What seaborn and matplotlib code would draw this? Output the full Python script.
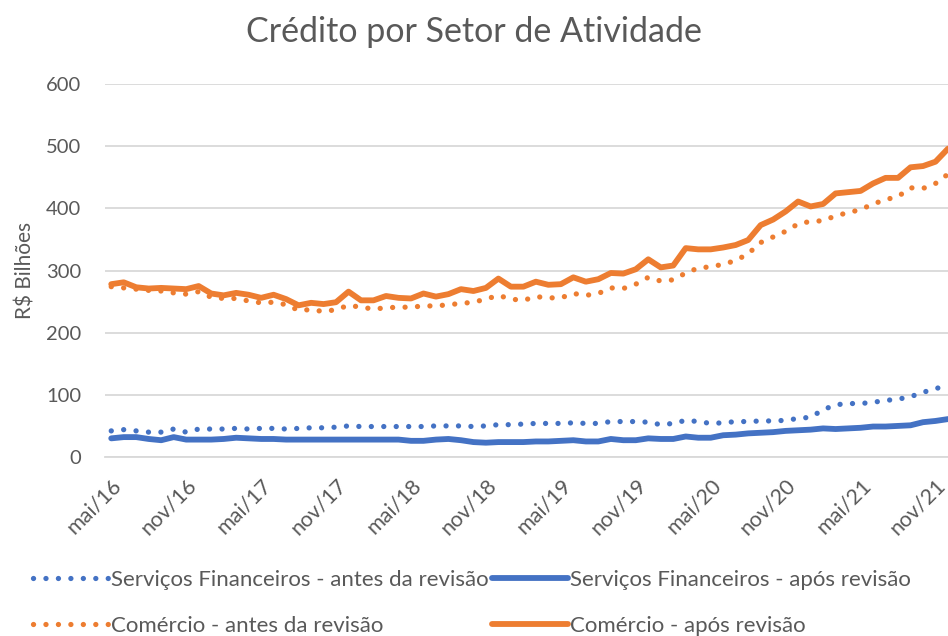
import numpy as np
import pandas as pd
import seaborn as sns
from matplotlib import pyplot as plt
from matplotlib.lines import Line2D

# monthly series, mai/16 .. dez/21 (68 months), R$ bilhões
servicos_antes = [42, 44, 42, 40, 40, 45, 40, 45, 45, 45, 46, 45, 46, 46, 45, 46, 47,
                  47, 48, 50, 49, 49, 49, 49, 49, 49, 50, 50, 50, 49, 50, 52, 52, 53,
                  54, 54, 54, 55, 54, 54, 57, 57, 57, 56, 52, 54, 59, 57, 54, 55, 57,
                  57, 58, 58, 59, 62, 64, 76, 84, 86, 86, 88, 91, 93, 97, 104, 110, 115]
servicos_apos = [30, 32, 32, 29, 27, 32, 28, 28, 28, 29, 31, 30, 29, 29, 28, 28, 28,
                 28, 28, 28, 28, 28, 28, 28, 26, 26, 28, 29, 27, 24, 23, 24, 24, 24,
                 25, 25, 26, 27, 25, 25, 29, 27, 27, 30, 29, 29, 33, 31, 31, 35, 36,
                 38, 39, 40, 42, 43, 44, 46, 45, 46, 47, 49, 49, 50, 51, 56, 58, 61]
comercio_antes = [274, 272, 270, 268, 267, 264, 262, 266, 257, 255, 255, 251, 248, 249,
                  245, 236, 237, 234, 237, 244, 241, 238, 240, 241, 241, 243, 243, 245,
                  247, 249, 254, 260, 254, 252, 258, 256, 256, 263, 260, 263, 272, 271,
                  278, 289, 283, 285, 296, 304, 306, 310, 316, 327, 345, 354, 363, 375,
                  379, 380, 388, 393, 398, 407, 414, 419, 433, 432, 440, 455]
comercio_apos = [278, 281, 273, 271, 272, 271, 270, 275, 263, 260, 264, 261, 256, 261,
                 254, 244, 248, 246, 249, 266, 252, 252, 259, 256, 255, 263, 258, 262,
                 270, 267, 272, 287, 274, 274, 282, 277, 278, 289, 282, 286, 296, 295,
                 302, 318, 305, 308, 336, 334, 334, 337, 341, 349, 373, 382, 395, 411,
                 403, 407, 424, 426, 428, 440, 449, 449, 466, 468, 475, 496]

tick_labels = ['mai/16', 'nov/16', 'mai/17', 'nov/17', 'mai/18', 'nov/18',
               'mai/19', 'nov/19', 'mai/20', 'nov/20', 'mai/21', 'nov/21']

df = pd.DataFrame({
    'mes': np.arange(len(comercio_apos)),
    'Serviços Financeiros - antes da revisão': servicos_antes,
    'Serviços Financeiros - após revisão': servicos_apos,
    'Comércio - antes da revisão': comercio_antes,
    'Comércio - após revisão': comercio_apos,
})

sns.set_style('white')
plt.rcParams['font.family'] = ['Lato', 'DejaVu Sans']

azul = '#4472C4'
laranja = '#ED7D31'
cinza = '#595959'
dot_style = (0, (0.01, 2.35))

fig = plt.figure(figsize=(9.48, 6.36), dpi=100)
ax = fig.add_axes([105 / 948, (636 - 457) / 636, 1 - 105 / 948, (457 - 84) / 636])

series = [
    ('Serviços Financeiros - antes da revisão', azul, True),
    ('Serviços Financeiros - após revisão', azul, False),
    ('Comércio - antes da revisão', laranja, True),
    ('Comércio - após revisão', laranja, False),
]
for nome, cor, pontilhado in series:
    if pontilhado:
        sns.lineplot(data=df, x='mes', y=nome, ax=ax, color=cor, linewidth=3.8,
                     linestyle=dot_style, dash_capstyle='round')
    else:
        sns.lineplot(data=df, x='mes', y=nome, ax=ax, color=cor, linewidth=4.2,
                     solid_joinstyle='round', solid_capstyle='round')

ax.set_ylim(0, 600)
ax.set_xlim(-0.5, 67.0)
ax.set_yticks(range(0, 601, 100))
ax.yaxis.grid(True, color='#D9D9D9', linewidth=1.3)
ax.set_axisbelow(True)
for s in ['top', 'right', 'left']:
    ax.spines[s].set_visible(False)
ax.spines['bottom'].set_color('#D9D9D9')
ax.spines['bottom'].set_linewidth(1.3)

ax.set_xticks(np.arange(0, 68, 6))
ax.set_xticklabels(tick_labels, rotation=45, ha='right', rotation_mode='anchor')
ax.set_xticks(np.arange(-0.5, 68, 6), minor=True)
ax.tick_params(axis='x', which='major', length=0, pad=13, labelsize=15.5, labelcolor=cinza)
ax.tick_params(axis='x', which='minor', length=6, width=1.3, color='#D9D9D9', direction='out')
ax.tick_params(axis='y', length=0, pad=17, labelsize=14.5, labelcolor=cinza)

ax.set_xlabel('')
ax.set_ylabel('R$ Bilhões', fontsize=15, color=cinza, labelpad=8)
fig.suptitle('Crédito por Setor de Atividade', fontsize=24.5, color=cinza, y=0.975)

handles = [Line2D([], [], color=azul, linewidth=3.8, linestyle=dot_style, dash_capstyle='round'),
           Line2D([], [], color=laranja, linewidth=3.8, linestyle=dot_style, dash_capstyle='round'),
           Line2D([], [], color=azul, linewidth=4.2),
           Line2D([], [], color=laranja, linewidth=4.2)]
labels = ['Serviços Financeiros - antes da revisão', 'Comércio - antes da revisão',
          'Serviços Financeiros - após revisão', 'Comércio - após revisão']
leg = fig.legend(handles, labels, ncol=2, loc='upper left', bbox_to_anchor=(33 / 948, 1 - 570 / 636),
                 frameon=False, fontsize=16, handlelength=3.4, handletextpad=0.12,
                 columnspacing=0.15, labelspacing=1.15, borderpad=0, borderaxespad=0)
for t in leg.get_texts():
    t.set_color(cinza)

fig.savefig('out.png', dpi=100)
